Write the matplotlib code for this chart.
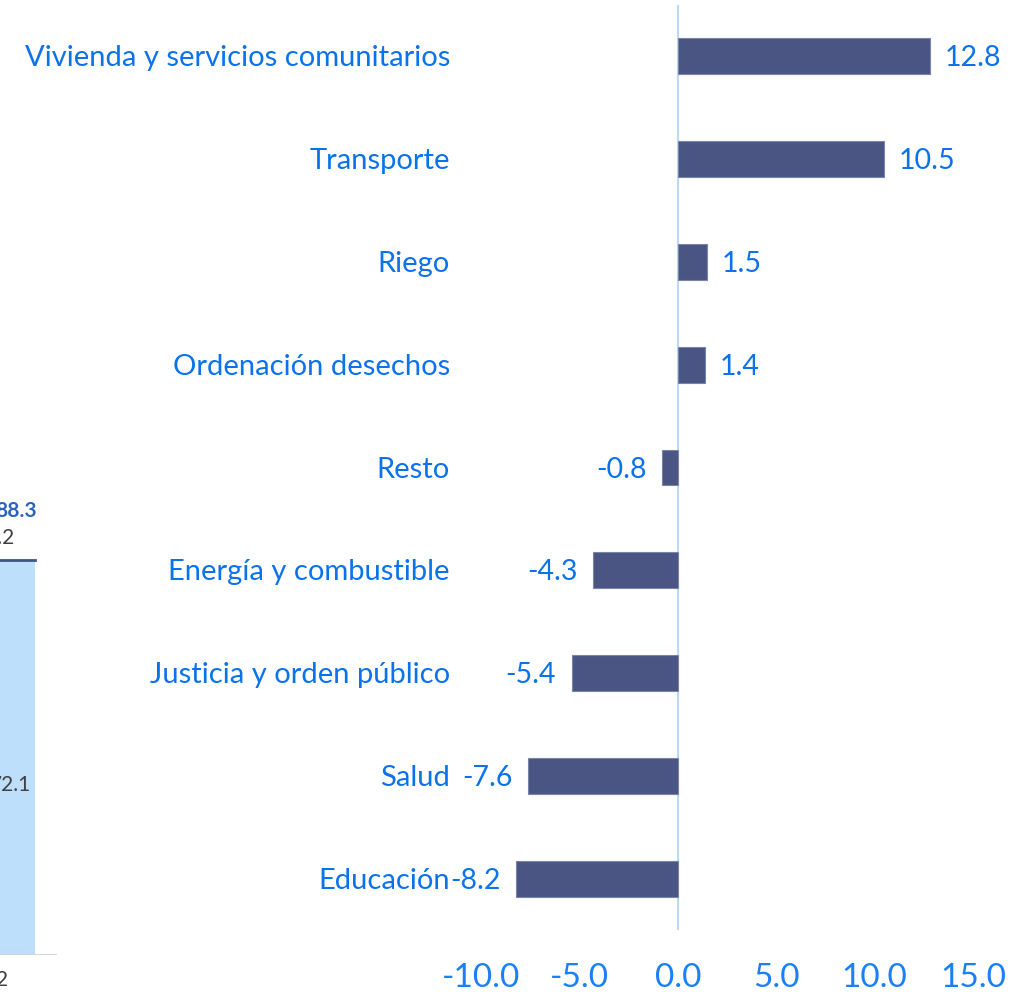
import numpy as np
import matplotlib
matplotlib.use("Agg")
import matplotlib.pyplot as plt

# main chart data (top to bottom)
categories = ["Vivienda y servicios comunitarios", "Transporte", "Riego",
              "Ordenación desechos", "Resto", "Energía y combustible",
              "Justicia y orden público", "Salud", "Educación"]
values = [12.8, 10.5, 1.5, 1.4, -0.8, -4.3, -5.4, -7.6, -8.2]
xticks = [-10, -5, 0, 5, 10, 15]

# fragment of a neighbouring chart cut at the left edge
frag_base = 72.1
frag_top = 16.2
frag_total = 88.3

blue_txt = "#0a72ea"
bar_col = "#4a5583"
plt.rcParams['font.family'] = ['Lato', 'DejaVu Sans']

fig = plt.figure(figsize=(10.2, 9.94), dpi=100)
W, H = 1020, 994

ax = fig.add_axes([481 / W, (H - 930) / H, (973 - 481) / W, 925 / H])
y = np.arange(len(categories))
ax.barh(y, values, height=0.35, color=bar_col, edgecolor="#7a84a8", linewidth=0.8, zorder=3)
ax.set_ylim(len(categories) - 0.5, -0.5)
ax.set_xlim(-10, 15)
ax.axvline(0, color="#bcdaf6", lw=1.5, zorder=2)
for s in ax.spines.values():
    s.set_visible(False)
ax.set_yticks([])
ax.set_xticks(xticks)
ax.set_xticklabels([f"{t:.1f}" for t in xticks], fontsize=24, color="#1a80f5")
ax.tick_params(axis="x", length=0, pad=24)

for i, (c, v) in enumerate(zip(categories, values)):
    yy = i + 0.02  # text sits a hair below bar centre in the original
    # category names sit at a fixed spot left of the plot area
    ax.text(-10 - 31 / 19.68, yy, c, ha="right", va="center", fontsize=21,
            color=blue_txt, clip_on=False)
    if v >= 0:
        ax.text(v + 0.75, yy, f"{v:.1f}", ha="left", va="center", fontsize=20.5, color=blue_txt)
    else:
        ax.text(v - 0.8, yy, f"{v:.1f}", ha="right", va="center", fontsize=20.5, color=blue_txt)

# left fragment
ax2 = fig.add_axes([0, (H - 955) / H, 60 / W, 955 / H])
ax2.set_xlim(0, 60)
ax2.set_ylim(0, 955 / 4.47)
ax2.axis("off")
ax2.bar([-12.5], [frag_total], width=95, color="#bddffb", zorder=2)
ax2.plot([-60, 35], [frag_total, frag_total], color="#3d5580", lw=2, zorder=3)
ax2.plot([0, 55], [0, 0], color="#d0d0d0", lw=2, zorder=3)
ax2.text(37, frag_total + 11, f"{frag_total:.1f}", ha="right", va="center",
         fontsize=15, fontweight="bold", color="#2c63c0", clip_on=False)
ax2.text(15, frag_total + 2.8, f"{frag_top:.1f}", ha="right", va="bottom",
         fontsize=15, color="#404040", clip_on=False)
ax2.text(31, 38, f"{frag_base:.1f}", ha="right", va="center",
         fontsize=15, color="#404040", clip_on=False)
ax2.text(8, -5.5, "2", ha="right", va="center", fontsize=15, color="#404040", clip_on=False)

fig.savefig("out.png", dpi=100)
